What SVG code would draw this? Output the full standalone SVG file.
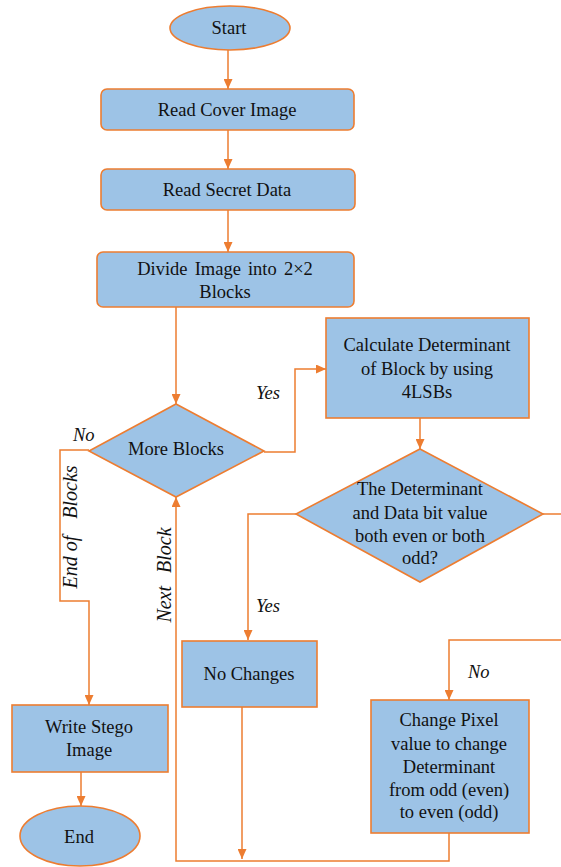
<svg xmlns="http://www.w3.org/2000/svg" width="561" height="867" viewBox="0 0 561 867">
<style>
.n{fill:#9DC3E6;stroke:#ED7D31;stroke-width:1.6}
.c{fill:none;stroke:#ED7D31;stroke-width:1.5}
text{font-family:"Liberation Serif","Times New Roman",serif;font-size:18.5px;fill:#111;text-anchor:middle}
.i{font-style:italic;text-anchor:start}
.r{font-style:italic;font-size:20px}
</style>
<defs>
<marker id="a" markerUnits="userSpaceOnUse" markerWidth="10" markerHeight="9" refX="10" refY="4.5" orient="auto">
<path d="M0,0 L10,4.5 L0,9 z" fill="#ED7D31"/>
</marker>
</defs>
<rect width="561" height="867" fill="#fff"/>
<g id="connectors">
<path class="c" d="M228,50 V89" marker-end="url(#a)"/>
<path class="c" d="M228,130 V169" marker-end="url(#a)"/>
<path class="c" d="M228,210 V252" marker-end="url(#a)"/>
<path class="c" d="M176,307 V404" marker-end="url(#a)"/>
<path class="c" d="M264,452 H295 V369 H326" marker-end="url(#a)"/>
<path class="c" d="M89,450 H60 V601 H89 V705" marker-end="url(#a)"/>
<path class="c" d="M420,418 V449" marker-end="url(#a)"/>
<path class="c" d="M296,514 H248 V640" marker-end="url(#a)"/>
<path class="c" d="M543,514 H561"/>
<path class="c" d="M561,640 H449 V700" marker-end="url(#a)"/>
<path class="c" d="M242,707 V859" marker-end="url(#a)"/>
<path class="c" d="M449,833 V861 H176 V497" marker-end="url(#a)"/>
<path class="c" d="M81,772 V806" marker-end="url(#a)"/>
<text class="i" x="256" y="399">Yes</text>
<text class="i" x="73" y="441">No</text>
<text class="i" x="256" y="612">Yes</text>
<text class="i" x="468" y="678">No</text>
<text class="r" x="77" y="527" transform="rotate(-90 77 527)">End of <tspan dx="12">Blocks</tspan></text>
<text class="r" x="171" y="575" transform="rotate(-90 171 575)" word-spacing="8">Next Block</text>
</g>
<g id="start">
<ellipse class="n" cx="230" cy="28" rx="60" ry="22"/>
<text x="229" y="34">Start</text>
</g>
<g id="read-cover">
<rect class="n" x="101" y="89" width="253" height="41" rx="6"/>
<text x="227" y="116">Read Cover Image</text>
</g>
<g id="read-secret">
<rect class="n" x="101" y="169" width="254" height="41" rx="6"/>
<text x="227" y="196">Read Secret Data</text>
</g>
<g id="divide">
<rect class="n" x="97" y="252" width="257" height="55" rx="6"/>
<text x="225" y="275" word-spacing="2.5">Divide Image into 2×2</text>
<text x="225" y="298">Blocks</text>
</g>
<g id="more-blocks">
<polygon class="n" points="176,404 264,451 176,497 89,451"/>
<text x="176" y="455">More Blocks</text>
</g>
<g id="calculate">
<rect class="n" x="326" y="318" width="203" height="100"/>
<text x="427" y="351">Calculate Determinant</text>
<text x="427" y="375">of Block by using</text>
<text x="427" y="398">4LSBs</text>
</g>
<g id="check">
<polygon class="n" points="420,449 543,514 420,582 296,514"/>
<text x="420" y="495">The Determinant</text>
<text x="420" y="519">and Data bit value</text>
<text x="420" y="542">both even or both</text>
<text x="420" y="564">odd?</text>
</g>
<g id="no-changes">
<rect class="n" x="182" y="641" width="135" height="66"/>
<text x="249" y="680">No Changes</text>
</g>
<g id="change-pixel">
<rect class="n" x="371" y="700" width="158" height="133"/>
<text x="449" y="726">Change Pixel</text>
<text x="449" y="750">value to change</text>
<text x="449" y="773">Determinant</text>
<text x="449" y="796">from odd (even)</text>
<text x="449" y="818">to even (odd)</text>
</g>
<g id="write-stego">
<rect class="n" x="12" y="705" width="156" height="67"/>
<text x="89" y="733">Write Stego</text>
<text x="89" y="756">Image</text>
</g>
<g id="end">
<ellipse class="n" cx="80" cy="836" rx="60" ry="30"/>
<text x="79" y="843">End</text>
</g>
</svg>
